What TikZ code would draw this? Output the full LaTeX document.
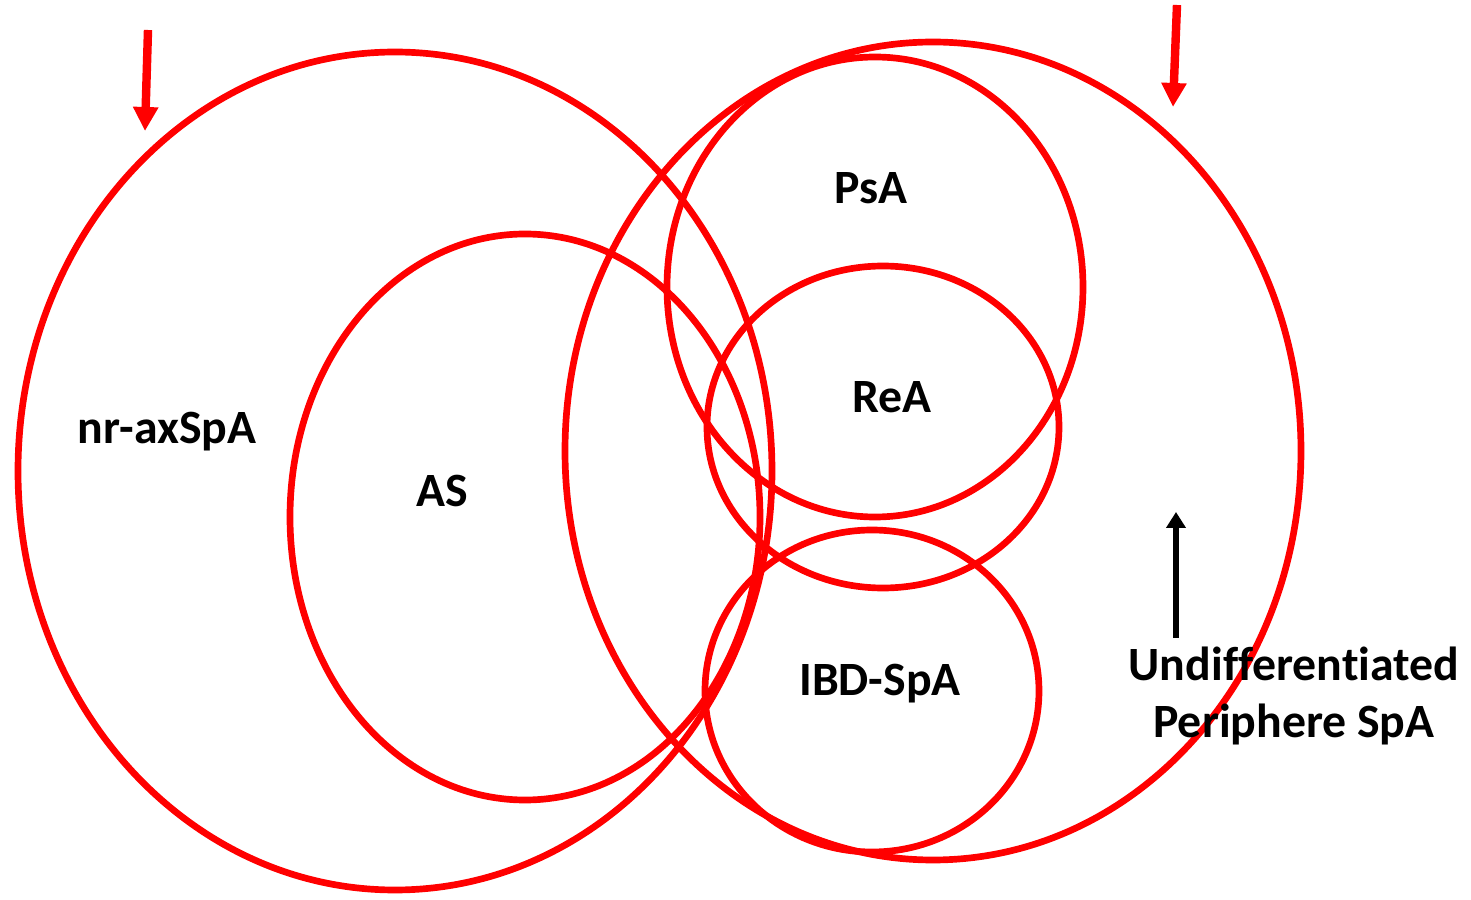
\documentclass[tikz,border=0pt]{standalone}
\usepackage{fontspec}
\setmainfont{Carlito}[Ligatures={NoCommon,NoRare}]
\usepackage{tikz}
\usetikzlibrary{arrows.meta,positioning,calc}
\definecolor{vennred}{RGB}{255,0,0}

\tikzset{
    venn/.style={draw=vennred,line width=1.9pt},
    lbl/.style={font=\bfseries\fontsize{13.6}{16.2}\selectfont,inner sep=0pt,anchor=base},
    redarrow/.style={draw=vennred,line width=2.4pt,-{Triangle[width=0.24cm,length=0.24cm]}},
    blackarrow/.style={draw=black,line width=1.7pt,-{Triangle[width=0.19cm,length=0.16cm]}}
}

\begin{document}
\begin{tikzpicture}
    \useasboundingbox (0,0) rectangle (14.71,9);
    % Ellipsen: Name / Mitte x / Mitte y / Radius x / Radius y
    \foreach \name/\x/\y/\rx/\ry in {nrax/3.95/4.29/3.77/4.19, as/5.25/3.83/2.35/2.83,
                                     periph/9.33/4.49/3.68/4.09, psa/8.75/6.13/2.08/2.30,
                                     rea/8.83/4.73/1.76/1.61, ibd/8.72/2.09/1.67/1.61} {
        \draw[venn] (\x,\y) coordinate (\name) ellipse [x radius=\rx, y radius=\ry];
    }

    % Beschriftungen
    \node[lbl] (lnrax) at (1.67,4.56) {nr-axSpA};
    \node[lbl] (las) at (4.42,3.93) {AS};
    \node[lbl] (lpsa) at (8.71,6.96) {PsA};
    \node[lbl] (lrea) at (8.92,4.87) {ReA};
    \node[lbl] (libd) at (8.80,2.04) {IBD-SpA};
    \node[lbl,anchor=center,align=center] (lperiph) at (12.94,2.04) {Undifferentiated\\Periphere SpA};

    % Pfeile
    \coordinate (r1s) at (1.48,8.70);
    \coordinate (r1e) at (1.45,7.69);
    \coordinate (r2s) at (11.77,8.95);
    \coordinate (r2e) at (11.73,7.93);
    \coordinate (bs) at (11.76,2.62);
    \coordinate (be) at (11.76,3.88);
    \draw[redarrow] (r1s) -- (r1e);
    \draw[redarrow] (r2s) -- (r2e);
    \draw[blackarrow] (bs) -- (be);
\end{tikzpicture}
\end{document}
